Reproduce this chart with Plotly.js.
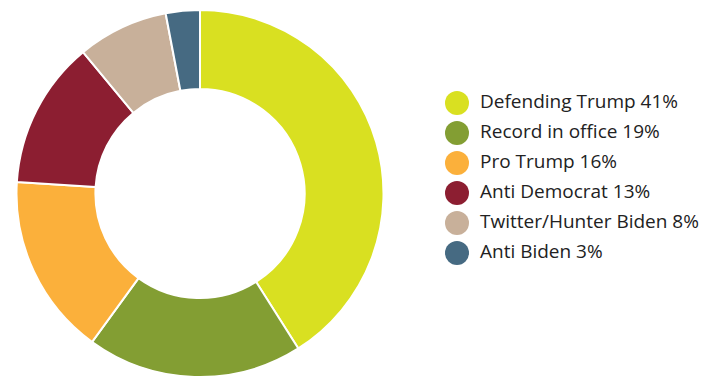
<!DOCTYPE html>
<html><head><meta charset="utf-8">
<script src="https://cdn.plot.ly/plotly-3.0.1.min.js"></script>
<style>html,body{margin:0;padding:0;background:#fff}#chart{width:704px;height:377px}</style>
</head><body><div id="chart"></div>
<script>
const categories = ["Defending Trump","Record in office","Pro Trump","Anti Democrat","Twitter/Hunter Biden","Anti Biden"];
const shares = [41,19,16,13,8,3];
const colors = ["#D9E021","#839E33","#FBB03B","#8C1E31","#C8B09A","#466A82"];

const labels = categories.map((c,i)=>c+" "+shares[i]+"%");

const pie = {
  type:"pie", labels:categories, values:shares, sort:false, direction:"clockwise", rotation:0,
  hole:0.57, textinfo:"none", showlegend:false, hoverinfo:"label+percent",
  marker:{colors:colors, line:{color:"#fff", width:2}},
  domain:{x:[(200-183.5)/704,(200+183.5)/704], y:[0,1]}
};
const legendMarkers = {
  type:"scatter", mode:"markers", x:categories.map(()=>17), y:categories,
  marker:{size:24, color:colors, symbol:"circle"},
  cliponaxis:false, showlegend:false, hoverinfo:"skip"
};
const legendText = {
  type:"scatter", mode:"text", x:categories.map(()=>40), y:categories,
  text:labels, textposition:"middle right",
  textfont:{family:"Open Sans, sans-serif", size:19, color:"#222"},
  cliponaxis:false, showlegend:false, hoverinfo:"skip"
};
const layout = {
  width:704, height:377, margin:{l:0,r:0,t:10,b:0},
  paper_bgcolor:"#fff", plot_bgcolor:"rgba(0,0,0,0)",
  showlegend:false,
  xaxis:{domain:[440/704,1], range:[0,264], visible:false, fixedrange:true},
  yaxis:{type:"category", categoryarray:categories, range:[9.13,-3.1], visible:false, fixedrange:true}
};
Plotly.newPlot("chart",[pie,legendMarkers,legendText],layout,{displayModeBar:false,staticPlot:true});
</script></body></html>
